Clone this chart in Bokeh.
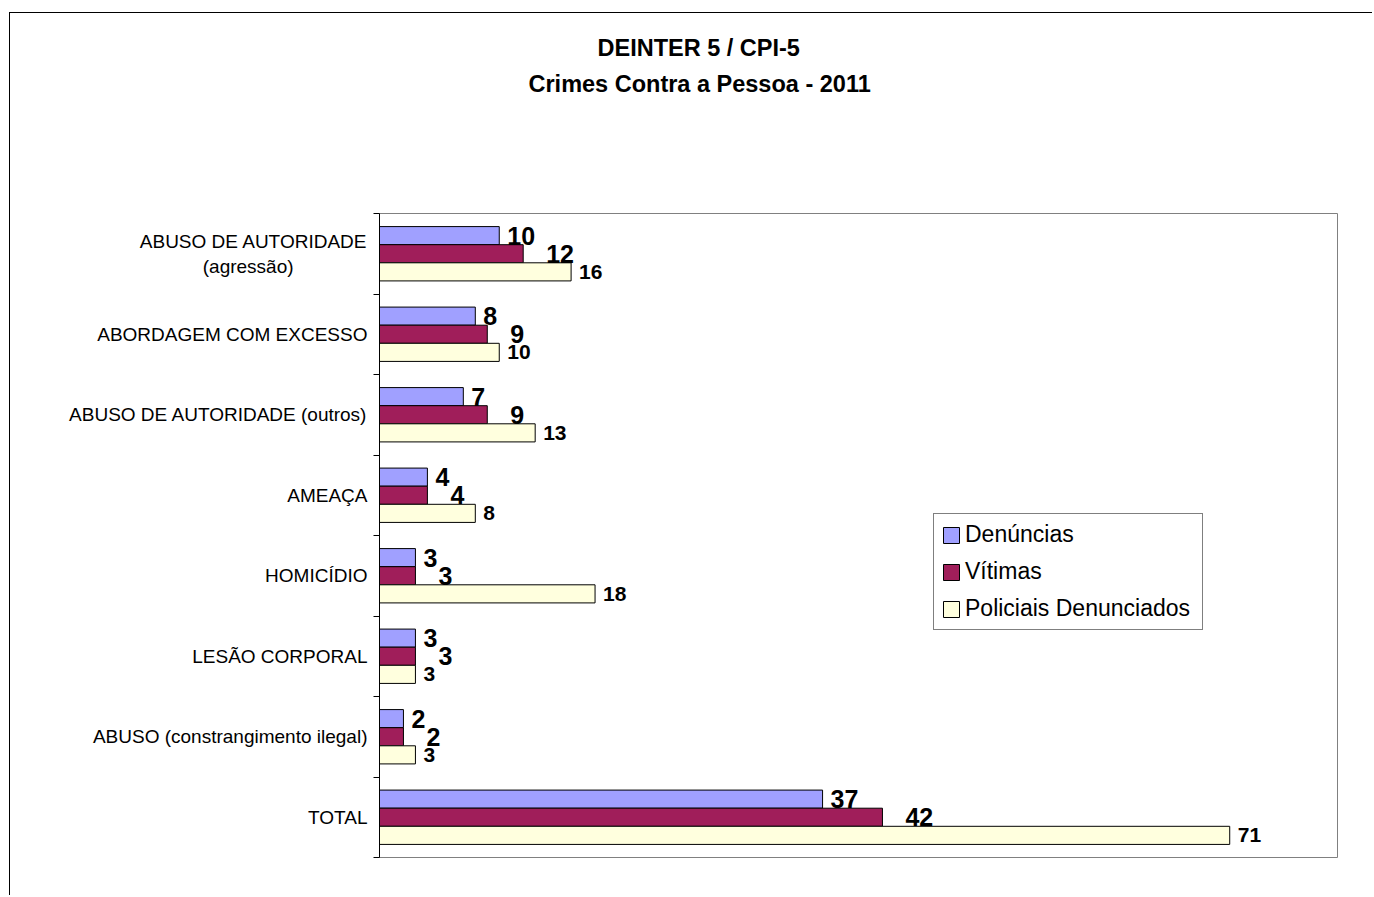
from bokeh.plotting import figure
from bokeh.models import Range1d, FixedTicker, Title, ColumnDataSource
from bokeh.transform import dodge
from bokeh.embed import file_html
from bokeh.resources import INLINE
from bokeh.core.properties import value

# ---- data ----
categories = [
    "ABUSO DE AUTORIDADE\n(agressão)",
    "ABORDAGEM COM EXCESSO",
    "ABUSO DE AUTORIDADE (outros)",
    "AMEAÇA",
    "HOMICÍDIO",
    "LESÃO CORPORAL",
    "ABUSO (constrangimento ilegal)",
    "TOTAL",
]
denuncias = [10, 8, 7, 4, 3, 3, 2, 37]
vitimas = [12, 9, 9, 4, 3, 3, 2, 42]
policiais = [16, 10, 13, 8, 18, 3, 3, 71]
series_names = ["Denúncias", "Vítimas", "Policiais Denunciados"]
title_lines = ["DEINTER 5 / CPI-5", "Crimes Contra a Pessoa - 2011"]

colors = ["#A0A0FF", "#A01E5A", "#FFFFDE"]
FONT = "Liberation Sans"

# axis label texts (second line of the first label visually centred with padding)
axis_labels = list(categories)
axis_labels[0] = categories[0] + "\u00a0" * 14

ypos = [i + 0.5 for i in range(len(categories))]
source = ColumnDataSource(dict(
    y=ypos,
    den=denuncias, vit=vitimas, pol=policiais,
    den_t=[str(v) for v in denuncias],
    vit_t=[str(v) for v in vitimas],
    pol_t=[str(v) for v in policiais],
))

p = figure(width=1363, height=883,
           x_range=Range1d(0, 80), y_range=Range1d(len(categories), 0),
           output_backend="svg", toolbar_location=None,
           x_axis_location=None,
           min_border_left=369, min_border_right=36,
           min_border_top=200, min_border_bottom=39)
p.margin = (12, 0, 0, 9)
p.styles = {"border-top": "1px solid black", "border-left": "1px solid black"}
p.grid.visible = False
p.outline_line_color = "#808080"
p.outline_line_width = 1
p.background_fill_color = "white"
p.border_fill_color = "white"

bw = 0.225
offsets = [-bw, 0.0, bw]
fields = ["den", "vit", "pol"]
for f, off, col, name in zip(fields, offsets, colors, series_names):
    p.hbar(y=dodge("y", off, range=p.y_range), left=0, right=f, height=bw,
           source=source, fill_color=col, line_color="black", line_width=1,
           legend_label=name)

label_specs = [("den", -bw, 8, "25px"), ("vit", 0.0, 23, "25px"), ("pol", bw, 8, "21px")]
for f, off, xo, fs in label_specs:
    p.text(x=f, y=dodge("y", off, range=p.y_range), text=f + "_t", source=source,
           x_offset=xo, text_align="left", text_baseline="middle",
           text_font=value(FONT), text_font_style="bold", text_font_size=fs,
           text_color="black")

# y axis: labels at category centres, ticks at boundaries
ax = p.yaxis[0]
ax.ticker = FixedTicker(ticks=ypos, minor_ticks=list(range(len(categories) + 1)))
ax.major_label_overrides = {y: c for y, c in zip(ypos, axis_labels)}
ax.major_tick_line_color = None
ax.major_tick_out = 6
ax.major_tick_in = 0
ax.minor_tick_line_color = "black"
ax.minor_tick_out = 6
ax.minor_tick_in = 0
ax.major_label_standoff = 6
ax.axis_line_color = "black"
ax.major_label_text_font = FONT
ax.major_label_text_font_size = "19px"
ax.major_label_text_color = "black"

# legend
lg = p.legend[0]
lg.location = (554, 227)
lg.border_line_color = "black"
lg.border_line_width = 1
lg.background_fill_color = "white"
lg.background_fill_alpha = 1
lg.label_text_font = FONT
lg.label_text_font_size = "23px"
lg.label_text_color = "black"
lg.glyph_width = 20
lg.glyph_height = 20
lg.label_height = 26
lg.label_width = 230
lg.label_standoff = 4
lg.spacing = 10
lg.padding = 7
lg.margin = 0

# titles: a thin spacer next to the frame, then the two title lines
p.add_layout(Title(text="\u00a0", standoff=110, text_font_size="1px",
                   text_color="white"), "above")
p.add_layout(Title(text=title_lines[1], align="left", offset=149, standoff=8,
                   text_font=FONT, text_font_style="bold", text_font_size="23.5px",
                   text_color="black"), "above")
p.add_layout(Title(text=title_lines[0], align="left", offset=218, standoff=7,
                   text_font=FONT, text_font_style="bold", text_font_size="23.5px",
                   text_color="black"), "above")

open("out.html", "w").write(file_html(p, INLINE))
